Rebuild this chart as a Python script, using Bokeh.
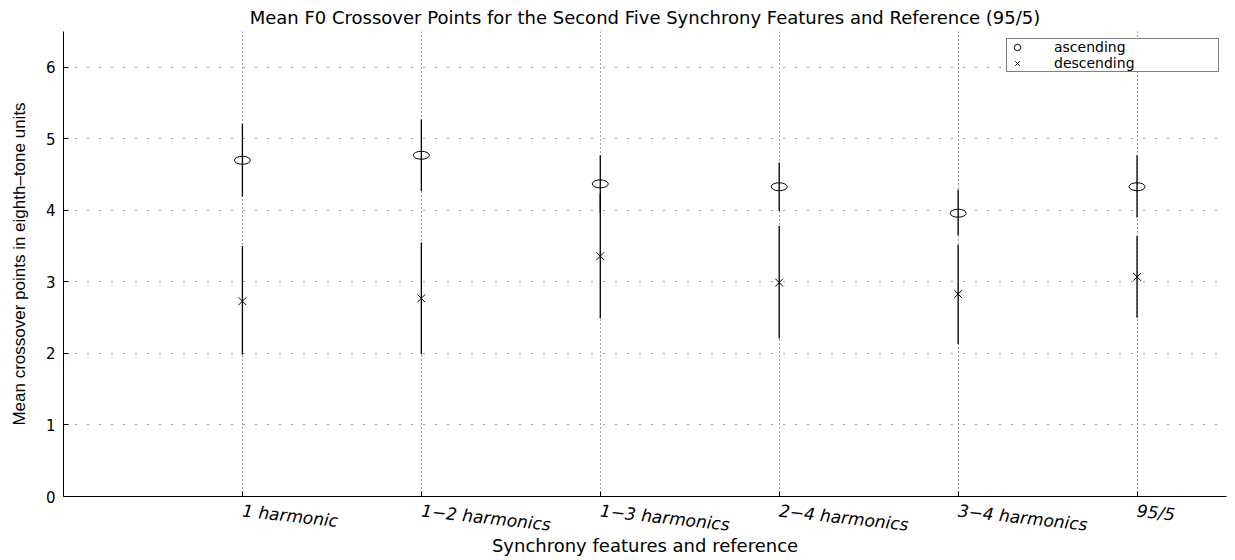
from bokeh.plotting import figure
from bokeh.models import (ColumnDataSource, FixedTicker, Range1d, Legend, LegendItem)
from bokeh.embed import file_html
from bokeh.resources import INLINE

# ---- data ----
features = ["1 harmonic", "1\u22122 harmonics", "1\u22123 harmonics",
            "2\u22124 harmonics", "3\u22124 harmonics", "95/5"]
positions = [1, 2, 3, 4, 5, 6]
asc_mean = [4.70, 4.77, 4.37, 4.33, 3.96, 4.33]
asc_low = [4.19, 4.27, 3.97, 3.99, 3.65, 3.90]
asc_high = [5.21, 5.27, 4.77, 4.67, 4.29, 4.77]
desc_mean = [2.73, 2.77, 3.36, 2.99, 2.83, 3.07]
desc_low = [1.98, 1.99, 2.49, 2.21, 2.13, 2.50]
desc_high = [3.50, 3.55, 4.23, 3.78, 3.52, 3.64]
y_ticks = [0, 1, 2, 3, 4, 5, 6]

TITLE = "Mean F0 Crossover Points for the Second Five Synchrony Features and Reference (95/5)"
WIDE = "DejaVu Sans"
NARROW = "Liberation Sans"

p = figure(width=1235, height=560, output_backend="svg", toolbar_location=None,
           x_range=Range1d(0, 6.5), y_range=Range1d(0, 6.5),
           min_border_left=63, min_border_right=9, min_border_top=31, min_border_bottom=64,
           title=TITLE)
p.outline_line_color = None
p.background_fill_color = "white"

p.title.align = "center"
p.title.text_font = WIDE
p.title.text_font_size = "18px"
p.title.text_font_style = "normal"
p.title.text_color = "black"
p.title.standoff = 7
p.title.offset = 0

# grids
p.ygrid.ticker = FixedTicker(ticks=y_ticks)
p.xgrid.ticker = FixedTicker(ticks=positions)
p.ygrid.grid_line_color = "black"
p.ygrid.grid_line_alpha = 0.75
p.ygrid.grid_line_dash = "1 11"
p.xgrid.grid_line_color = "black"
p.xgrid.grid_line_alpha = 0.75
p.xgrid.grid_line_dash = "1 3"

# axes
p.yaxis.ticker = FixedTicker(ticks=y_ticks)
p.yaxis.major_tick_in = 5
p.yaxis.major_tick_out = 0
p.yaxis.minor_tick_line_color = None
p.yaxis.major_label_standoff = 8
p.yaxis.major_label_text_font = WIDE
p.yaxis.major_label_text_font_size = "15px"
p.yaxis.major_label_text_color = "black"
p.yaxis.axis_line_color = "black"
p.yaxis.axis_label = "Mean crossover points in eighth\u2013tone units"
p.yaxis.axis_label_text_font = NARROW
p.yaxis.axis_label_text_font_size = "17px"
p.yaxis.axis_label_text_font_style = "normal"
p.yaxis.axis_label_text_color = "black"
p.yaxis.axis_label_standoff = 14

p.xaxis.ticker = FixedTicker(ticks=positions)
p.xaxis.major_label_overrides = {pos: name for pos, name in zip(positions, features)}
p.xaxis.major_label_orientation = -0.11
p.xaxis.major_tick_in = 5
p.xaxis.major_tick_out = 0
p.xaxis.minor_tick_line_color = None
p.xaxis.major_label_text_font = WIDE
p.xaxis.major_label_text_font_size = "17px"
p.xaxis.major_label_text_font_style = "italic"
p.xaxis.major_label_text_color = "black"
p.xaxis.major_label_standoff = 14
p.xaxis.axis_line_color = "black"
p.xaxis.axis_label = "Synchrony features and reference"
p.xaxis.axis_label_text_font = WIDE
p.xaxis.axis_label_text_font_size = "18px"
p.xaxis.axis_label_text_font_style = "normal"
p.xaxis.axis_label_text_color = "black"
p.xaxis.axis_label_standoff = -13

src = ColumnDataSource(dict(x=positions, am=asc_mean, al=asc_low, ah=asc_high,
                            dm=desc_mean, dl=desc_low, dh=desc_high))

# error bars
p.segment(x0="x", y0="al", x1="x", y1="ah", source=src, line_color="black", line_width=1.3)
p.segment(x0="x", y0="dl", x1="x", y1="dh", source=src, line_color="black", line_width=1.3)

# ascending markers (ellipses, as in the stretched original)
p.ellipse(x="x", y="am", width=16, height=8, width_units="screen", height_units="screen",
          source=src, fill_color=None, line_color="black", line_width=1)
asc_leg = p.scatter(x="x", y="am", source=src, marker="circle", size=6,
                    fill_color=None, line_color="black", line_width=1)
asc_leg.visible = False

desc_r = p.scatter(x="x", y="dm", source=src, marker="x", size=11,
                   line_color="black", line_width=1)

legend = Legend(items=[LegendItem(label="ascending", renderers=[asc_leg]),
                       LegendItem(label="descending", renderers=[desc_r])],
                location="top_right", margin=7, padding=0, spacing=0,
                glyph_width=20, glyph_height=16, label_height=14,
                label_standoff=27, label_width=164,
                label_text_font=WIDE, label_text_font_size="14px",
                label_text_color="black",
                border_line_color="black", border_line_width=1,
                background_fill_color="white", background_fill_alpha=1.0)
p.add_layout(legend)

open("out.html", "w").write(file_html(p, INLINE))
